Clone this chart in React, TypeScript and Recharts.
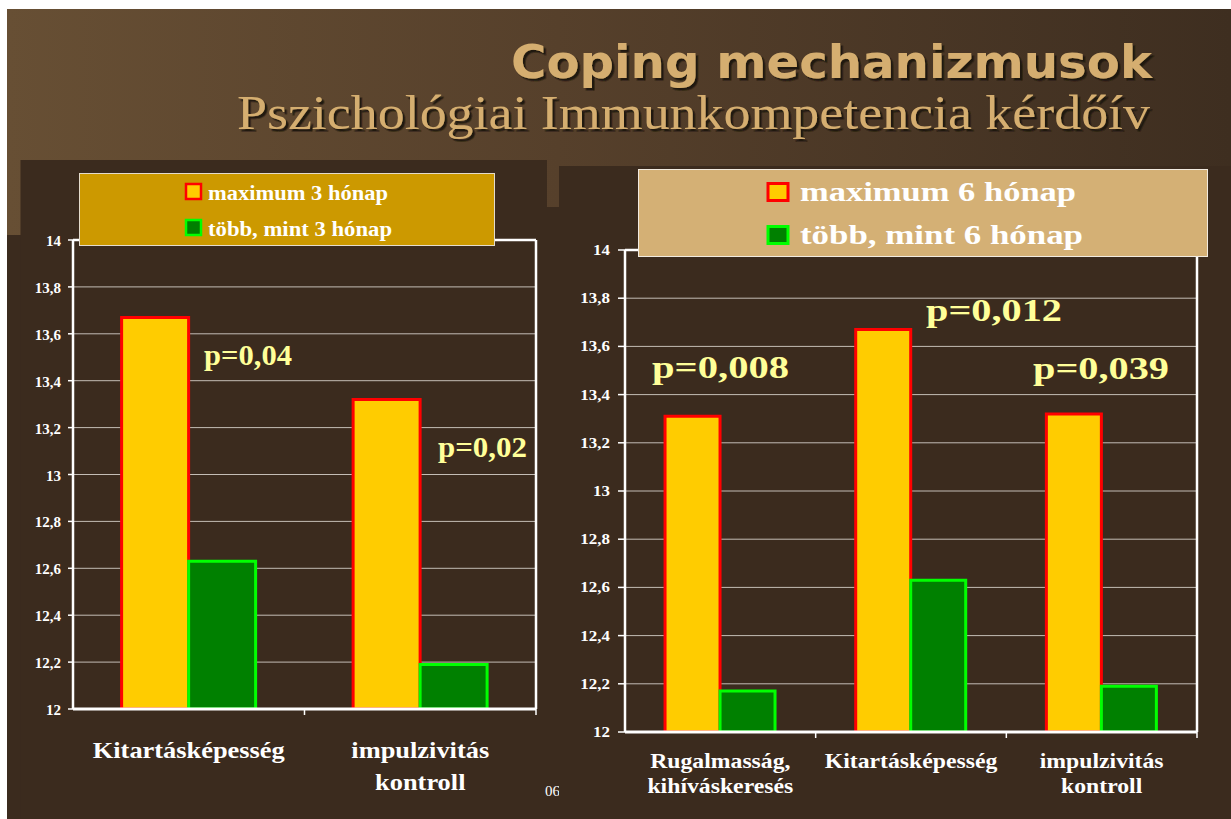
import React from 'react';
import { BarChart, Bar, XAxis, YAxis, CartesianGrid, ReferenceLine } from 'recharts';

// ---------- data ----------
const leftCategories = ['Kitartásképesség', 'impulzivitás\nkontroll'];
const leftMax = [13.67, 13.32];
const leftMore = [12.63, 12.19];
const leftSeries = ['maximum 3 hónap', 'több, mint 3 hónap'];
const leftP = ['p=0,04', 'p=0,02'];

const rightCategories = ['Rugalmasság,\nkihíváskeresés', 'Kitartásképesség', 'impulzivitás\nkontroll'];
const rightMax = [13.31, 13.67, 13.32];
const rightMore = [12.17, 12.63, 12.19];
const rightSeries = ['maximum 6 hónap', 'több, mint 6 hónap'];
const rightP = ['p=0,008', 'p=0,012', 'p=0,039'];

const yTicks = [12, 12.2, 12.4, 12.6, 12.8, 13, 13.2, 13.4, 13.6, 13.8, 14];
const yDomain = [12, 14];
const titleText = 'Coping mechanizmusok';
const subtitleText = 'Pszichológiai Immunkompetencia kérdőív';

// ---------- styles ----------
const SERIF = '"Liberation Serif", "Times New Roman", serif';
const SANS = '"DejaVu Sans", Verdana, sans-serif';
const DARK = '#3b2b1e';
const TAN = '#d5ae6f';
const YELLOW = '#ffcc00';
const RED = '#ff0000';
const GREEN = '#008000';
const LIME = '#00ff00';
const PCOLOR = '#ffff99';

const fmt = (v: number) => String(v).replace('.', ',');

function YTick(props: any) {
  const { x, y, payload, sx, size, dy } = props;
  return (
    <text
      transform={`translate(${x},${y + dy}) scale(${sx},1)`}
      textAnchor="end"
      fill="#ffffff"
      fontFamily={SERIF}
      fontWeight="bold"
      fontSize={size}
    >
      {fmt(payload.value)}
    </text>
  );
}

function XTick(props: any) {
  const { x, y, payload, index, band, count, size, sx, dy1, lh } = props;
  const lines = String(payload.value).split('\n');
  const l = x - band / 2;
  const r = x + band / 2;
  return (
    <g>
      {index > 0 && <line x1={l} x2={l} y1={y} y2={y + 6} stroke="#ffffff" strokeWidth={1.5} />}
      {index === count - 1 && <line x1={r} x2={r} y1={y} y2={y + 6} stroke="#ffffff" strokeWidth={1.5} />}
      {lines.map((t, i) => (
        <text
          key={i}
          transform={`translate(${x},${y + dy1 + i * lh}) scale(${sx},1)`}
          textAnchor="middle"
          fill="#ffffff"
          fontFamily={SERIF}
          fontWeight="bold"
          fontSize={size}
        >
          {t}
        </text>
      ))}
    </g>
  );
}

function Panel(props: any) {
  const {
    left, top, width, height, categories, max, more, margin, yAxisWidth, xAxisHeight,
    yTickSize, yTickMargin, ySx, yDy, ySize, xSize, xSx, xDy, xLh,
  } = props;
  const data = categories.map((c: string, i: number) => ({ name: c, max: max[i], more: more[i] }));
  const plotW = width - margin.left - margin.right - yAxisWidth - 1;
  const band = plotW / categories.length;
  return (
    <div style={{ position: 'absolute', left, top, width, height }}>
      <BarChart width={width} height={height} data={data} margin={margin} barCategoryGap="21%" barGap={0}>
        <CartesianGrid vertical={false} stroke="#c4bdb5" strokeWidth={1} />
        <XAxis
          dataKey="name"
          interval={0}
          height={xAxisHeight}
          tickSize={0}
          tickMargin={0}
          tickLine={false}
          axisLine={{ stroke: '#ffffff', strokeWidth: 3 }}
          tick={(p: any) => (
            <XTick {...p} band={band} count={categories.length} size={xSize} sx={xSx} dy1={xDy} lh={xLh} />
          )}
        />
        <YAxis
          domain={yDomain}
          ticks={yTicks}
          interval={0}
          allowDataOverflow
          width={yAxisWidth}
          tickSize={yTickSize}
          tickMargin={yTickMargin}
          tickLine={{ stroke: '#ffffff', strokeWidth: 1.5 }}
          axisLine={{ stroke: '#ffffff', strokeWidth: 2.5 }}
          tick={(p: any) => <YTick {...p} sx={ySx} size={ySize} dy={yDy} />}
        />
        <YAxis
          yAxisId="frame"
          orientation="right"
          domain={yDomain}
          width={1}
          tick={false}
          tickLine={false}
          axisLine={{ stroke: '#ffffff', strokeWidth: 2.5 }}
        />
        <ReferenceLine y={14} stroke="#ffffff" strokeWidth={2.5} />
        <Bar dataKey="max" fill={YELLOW} stroke={RED} strokeWidth={3} isAnimationActive={false} />
        <Bar dataKey="more" fill={GREEN} stroke={LIME} strokeWidth={3} isAnimationActive={false} />
      </BarChart>
    </div>
  );
}

function PText({ x, y, w, size, children }: any) {
  return (
    <text
      x={x}
      y={y}
      textLength={w}
      lengthAdjust="spacingAndGlyphs"
      fill={PCOLOR}
      fontFamily={SERIF}
      fontWeight="bold"
      fontSize={size}
    >
      {children}
    </text>
  );
}

function LegendText({ x, y, w, size, children }: any) {
  return (
    <text
      x={x}
      y={y}
      textLength={w}
      lengthAdjust="spacingAndGlyphs"
      fill="#ffffff"
      fontFamily={SERIF}
      fontWeight="bold"
      fontSize={size}
    >
      {children}
    </text>
  );
}

export default function App() {
  return (
    <div
      style={{
        position: 'absolute',
        left: 0,
        top: 0,
        width: 1231,
        height: 819,
        background: '#ffffff',
        overflow: 'hidden',
      }}
    >
      {/* slide background */}
      <svg width={1231} height={819} style={{ position: 'absolute', left: 0, top: 0 }}>
        <defs>
          <linearGradient id="bandGrad" x1="0" y1="0" x2="1" y2="0">
            <stop offset="0" stopColor="#674f34" />
            <stop offset="0.45" stopColor="#56402b" />
            <stop offset="1" stopColor="#3e2e20" />
          </linearGradient>
        </defs>
        <rect x={7} y={9} width={1224} height={810} fill={DARK} />
        <rect x={7} y={9} width={1224} height={226} fill="url(#bandGrad)" />
        <rect x={547} y={207} width={12} height={28} fill={DARK} />
        <rect x={20.5} y={160} width={526.5} height={659} fill={DARK} />
        <text x={545} y={796} fill="#ffffff" fontFamily={SERIF} fontSize={15}>06</text>
        <rect x={559} y={166} width={672} height={653} fill={DARK} />
      </svg>

      <Panel
        left={0}
        top={200}
        width={560}
        height={619}
        categories={leftCategories}
        max={leftMax}
        more={leftMore}
        margin={{ top: 40, right: 23, bottom: 10, left: 0 }}
        yAxisWidth={73}
        xAxisHeight={100}
        yTickSize={5}
        yTickMargin={7}
        ySx={1}
        ySize={15}
        yDy={6}
        xSize={24}
        xSx={1.1}
        xDy={49}
        xLh={32}
      />
      <Panel
        left={560}
        top={200}
        width={671}
        height={619}
        categories={rightCategories}
        max={rightMax}
        more={rightMore}
        margin={{ top: 50, right: 33, bottom: 7, left: 0 }}
        yAxisWidth={65}
        xAxisHeight={80}
        yTickSize={7}
        yTickMargin={8}
        ySx={1.13}
        ySize={15}
        yDy={5}
        xSize={21}
        xSx={1.13}
        xDy={36}
        xLh={25}
      />

      {/* overlay: titles, legends, annotations */}
      <svg width={1231} height={819} style={{ position: 'absolute', left: 0, top: 0, pointerEvents: 'none' }}>
        <defs>
          <filter id="titleShadow" x="-5%" y="-20%" width="110%" height="140%">
            <feDropShadow dx="2.5" dy="2.5" stdDeviation="0.6" floodColor="#1c130a" floodOpacity="0.95" />
          </filter>
        </defs>
        <text x={1152} y={78} textAnchor="end" textLength={641} lengthAdjust="spacingAndGlyphs"
          fill={TAN} fontFamily={SANS} fontWeight="bold" fontSize={47} filter="url(#titleShadow)">{titleText}</text>
        <text x={1150} y={129} textAnchor="end" textLength={913} lengthAdjust="spacingAndGlyphs"
          fill={TAN} fontFamily={SERIF} fontSize={48} filter="url(#titleShadow)">{subtitleText}</text>

        {/* left legend */}
        <rect x={79.5} y={173.5} width={415} height={72} fill="#cc9900" stroke="#e4dccd" strokeWidth={1} />
        <rect x={186} y={184} width={15} height={15} fill={YELLOW} stroke={RED} strokeWidth={2.5} />
        <rect x={186} y={220} width={15} height={15} fill={GREEN} stroke={LIME} strokeWidth={2.5} />
        <LegendText x={208} y={200} w={180} size={20}>{leftSeries[0]}</LegendText>
        <LegendText x={208} y={236} w={184} size={20}>{leftSeries[1]}</LegendText>

        {/* right legend */}
        <rect x={638.5} y={169.5} width={569} height={87} fill="#d4b075" stroke="#f2ebe0" strokeWidth={1} />
        <rect x={768} y={183.5} width={20} height={17} fill={YELLOW} stroke={RED} strokeWidth={3} />
        <rect x={768} y={226.5} width={20} height={17} fill={GREEN} stroke={LIME} strokeWidth={3} />
        <LegendText x={800} y={201} w={276} size={27}>{rightSeries[0]}</LegendText>
        <LegendText x={800} y={244} w={283} size={27}>{rightSeries[1]}</LegendText>

        {/* p values */}
        <PText x={204} y={365} w={88} size={30}>{leftP[0]}</PText>
        <PText x={438} y={457} w={89} size={30}>{leftP[1]}</PText>
        <PText x={652} y={378} w={137} size={32}>{rightP[0]}</PText>
        <PText x={926} y={321} w={136} size={32}>{rightP[1]}</PText>
        <PText x={1033} y={379} w={136} size={32}>{rightP[2]}</PText>
      </svg>
    </div>
  );
}
